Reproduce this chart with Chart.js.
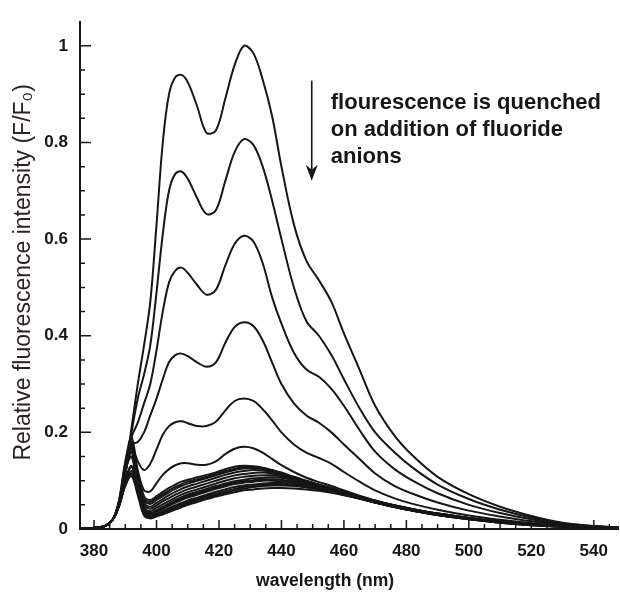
<!DOCTYPE html>
<html>
<head>
<meta charset="utf-8">
<script src="https://cdn.jsdelivr.net/npm/chart.js@4.4.1/dist/chart.umd.min.js"></script>
<style>
  html, body { margin: 0; padding: 0; background: #ffffff; }
  #c { display: block; }
</style>
</head>
<body>
<canvas id="c" width="620" height="592"></canvas>
<script>
// ---- data ----
const wavelengths = [375, 383, 386, 388, 390, 392, 394, 396, 398, 400, 402, 404, 406, 408, 410, 413, 416, 419, 422, 425, 428, 431, 434, 437, 440, 444, 448, 452, 456, 460, 465, 470, 476, 482, 490, 500, 510, 520, 530, 540, 548];

const c1  = [0, .005, .02, .05, .12, .21, .30, .38, .47, .63, .80, .90, .935, .94, .925, .875, .82, .825, .89, .96, 1.0, .985, .93, .855, .75, .63, .555, .515, .47, .405, .33, .255, .195, .152, .108, .072, .046, .027, .013, .006, .003];
const c2  = [0, .005, .02, .05, .12, .2, .27, .32, .38, .49, .61, .70, .735, .74, .725, .685, .652, .66, .72, .78, .807, .795, .75, .68, .60, .50, .43, .40, .36, .31, .25, .20, .16, .127, .092, .062, .04, .024, .012, .006, .003];
const c3  = [0, .005, .02, .05, .12, .19, .22, .26, .30, .37, .45, .51, .535, .541, .53, .505, .485, .495, .545, .59, .607, .595, .55, .48, .425, .365, .33, .315, .29, .255, .205, .16, .125, .10, .074, .05, .033, .02, .011, .005, .003];
const c4  = [0, .005, .02, .05, .115, .175, .18, .2, .235, .27, .31, .345, .36, .363, .358, .345, .336, .345, .385, .418, .428, .42, .39, .345, .30, .26, .235, .22, .20, .175, .145, .115, .09, .073, .055, .038, .026, .016, .009, .005, .003];
const c5  = [0, .005, .02, .05, .115, .17, .14, .122, .135, .165, .195, .213, .221, .223, .219, .213, .213, .222, .245, .265, .27, .265, .248, .225, .2, .175, .158, .147, .135, .118, .098, .08, .064, .052, .04, .028, .019, .012, .007, .004, .002];
const c6  = [0, .005, .02, .05, .115, .165, .12, .08, .078, .095, .112, .124, .132, .136, .136, .133, .133, .14, .155, .166, .17, .167, .158, .145, .132, .118, .106, .097, .089, .08, .069, .059, .049, .041, .032, .023, .016, .01, .006, .003, .002];
const c7  = [0, .005, .02, .06, .14, .19, .12, .068, .06, .068, .077, .085, .092, .098, .102, .107, .112, .117, .124, .129, .131, .13, .127, .122, .117, .108, .1, .092, .085, .077, .068, .059, .049, .041, .032, .023, .016, .01, .006, .003, .002];
const c8  = [0, .005, .02, .055, .12, .16, .11, .064, .056, .064, .072, .08, .087, .093, .098, .103, .108, .114, .12, .125, .128, .128, .125, .121, .116, .107, .099, .091, .084, .076, .067, .058, .049, .041, .032, .023, .015, .01, .006, .003, .002];
const c9  = [0, .005, .02, .05, .1, .13, .1, .06, .052, .06, .068, .076, .083, .089, .094, .1, .105, .111, .117, .122, .125, .126, .124, .12, .115, .107, .099, .091, .084, .076, .067, .058, .049, .041, .032, .023, .015, .01, .006, .003, .002];
const c10 = [0, .005, .02, .058, .135, .18, .11, .055, .046, .054, .062, .07, .077, .083, .088, .094, .1, .106, .112, .117, .12, .122, .121, .118, .114, .106, .098, .09, .083, .075, .066, .058, .048, .04, .031, .022, .015, .009, .005, .003, .002];
const c11 = [0, .005, .02, .05, .095, .12, .09, .05, .042, .049, .057, .064, .071, .077, .082, .088, .094, .1, .106, .111, .114, .116, .117, .115, .111, .104, .097, .089, .082, .074, .065, .057, .048, .04, .031, .022, .015, .009, .005, .003, .002];
const c12 = [0, .005, .02, .056, .13, .17, .1, .045, .037, .044, .051, .058, .065, .071, .076, .082, .088, .094, .1, .105, .108, .11, .111, .111, .109, .103, .096, .089, .082, .074, .065, .057, .048, .04, .031, .022, .015, .009, .005, .003, .002];
const c13 = [0, .005, .02, .048, .09, .11, .08, .04, .033, .039, .046, .053, .06, .066, .071, .077, .083, .089, .094, .099, .102, .105, .106, .107, .106, .101, .095, .088, .081, .073, .064, .056, .047, .039, .03, .021, .014, .009, .005, .003, .002];
const c14 = [0, .005, .02, .05, .1, .13, .085, .039, .031, .037, .043, .05, .057, .063, .068, .074, .08, .086, .091, .096, .099, .101, .103, .103, .102, .098, .093, .087, .08, .073, .064, .055, .046, .038, .03, .021, .014, .009, .005, .003, .002];
const c15 = [0, .005, .02, .055, .125, .16, .09, .038, .03, .035, .041, .048, .054, .06, .065, .071, .077, .083, .088, .093, .096, .098, .1, .1, .099, .096, .091, .085, .079, .072, .063, .055, .046, .038, .03, .021, .014, .009, .005, .003, .002];
const c16 = [0, .005, .02, .048, .092, .115, .075, .034, .027, .032, .037, .043, .049, .054, .059, .065, .071, .077, .082, .087, .09, .092, .094, .095, .095, .093, .089, .084, .078, .071, .063, .055, .046, .038, .029, .021, .014, .009, .005, .003, .002];
const c17 = [0, .005, .02, .05, .1, .13, .078, .032, .025, .03, .035, .04, .046, .051, .056, .062, .068, .073, .078, .083, .087, .089, .091, .092, .092, .091, .087, .083, .077, .071, .063, .055, .046, .038, .029, .02, .013, .008, .005, .003, .002];
const c18 = [0, .005, .02, .054, .12, .15, .08, .03, .024, .028, .033, .038, .043, .048, .053, .059, .065, .07, .075, .08, .084, .087, .089, .09, .09, .089, .086, .082, .077, .071, .063, .055, .046, .038, .029, .02, .013, .008, .005, .003, .002];
const c19 = [0, .005, .02, .046, .09, .11, .07, .028, .022, .026, .03, .035, .04, .045, .05, .056, .062, .067, .072, .076, .08, .082, .084, .085, .085, .084, .082, .079, .075, .07, .063, .055, .046, .038, .029, .02, .013, .008, .005, .003, .002];

const spectra = [c19, c18, c17, c16, c15, c14, c13, c12, c11, c10, c9, c8, c7, c6, c5, c4, c3, c2, c1];

const xTickValues = [380, 400, 420, 440, 460, 480, 500, 520, 540];
const xMinorTicks = [380, 385, 390, 395, 400, 405, 410, 415, 420, 425, 430, 435, 440, 445, 450, 455, 460, 465, 470, 475, 480, 485, 490, 495, 500, 505, 510, 515, 520, 525, 530, 535, 540, 545];
const yTickValues = [0, 0.2, 0.4, 0.6, 0.8, 1];
const yTickLabels = ['0', '0.2', '0.4', '0.6', '0.8', '1'];
const yMinorTicks = [0.05, 0.1, 0.15, 0.25, 0.3, 0.35, 0.45, 0.5, 0.55, 0.65, 0.7, 0.75, 0.85, 0.9, 0.95, 1.0];

const xTitle = 'wavelength (nm)' + '\u00a0'.repeat(10);
const yTitle = '\u00a0' + 'Relative fluorescence intensity (F/F\u2080)';
const noteLines = ['flourescence is quenched', 'on addition of fluoride', 'anions'];
const noteAt = { x: 455.8, y: 0.869 };        // first text baseline (data coords)
const arrowAt = { x: 449.7, yTop: 0.928, yTip: 0.721 };

// ---- chart ----
const FONT = '"Liberation Sans", Arial, Helvetica, sans-serif';
const INK = '#161616';

const inwardTicks = {
  id: 'inwardTicks',
  afterDraw(chart) {
    const { ctx, scales } = chart;
    const x = scales.x, y = scales.y;
    const x0 = x.getPixelForValue(x.min);
    const y0 = y.getPixelForValue(y.min);
    ctx.save();
    ctx.strokeStyle = INK;
    ctx.lineWidth = 1.5;
    ctx.beginPath();
    xMinorTicks.forEach(v => {
      const px = x.getPixelForValue(v);
      const len = xTickValues.includes(v) ? 9 : 5;
      ctx.moveTo(px, y0); ctx.lineTo(px, y0 - len);
    });
    yTickValues.forEach(v => {
      const py = y.getPixelForValue(v);
      ctx.moveTo(x0, py); ctx.lineTo(x0 + 11, py);
    });
    yMinorTicks.forEach(v => {
      const py = y.getPixelForValue(v);
      ctx.moveTo(x0, py); ctx.lineTo(x0 + 5, py);
    });
    ctx.stroke();

    // annotation arrow
    const ax = x.getPixelForValue(arrowAt.x);
    const ayTop = y.getPixelForValue(arrowAt.yTop);
    const ayTip = y.getPixelForValue(arrowAt.yTip);
    ctx.lineWidth = 1.6;
    ctx.beginPath();
    ctx.moveTo(ax, ayTop); ctx.lineTo(ax, ayTip - 8);
    ctx.stroke();
    ctx.fillStyle = INK;
    ctx.beginPath();
    ctx.moveTo(ax, ayTip);
    ctx.lineTo(ax - 6, ayTip - 16);
    ctx.lineTo(ax, ayTip - 11);
    ctx.lineTo(ax + 6, ayTip - 16);
    ctx.closePath();
    ctx.fill();

    // annotation text
    ctx.font = 'bold 22px ' + FONT;
    ctx.textAlign = 'left';
    ctx.textBaseline = 'alphabetic';
    const tx = x.getPixelForValue(noteAt.x);
    const ty = y.getPixelForValue(noteAt.y);
    noteLines.forEach((t, i) => ctx.fillText(t, tx, ty + i * 27));
    ctx.restore();
  }
};

new Chart(document.getElementById('c'), {
  type: 'line',
  data: {
    datasets: spectra.map((s, i) => ({
      label: 'spectrum ' + (i + 1),
      data: wavelengths.map((w, j) => ({ x: w, y: s[j] })),
      borderColor: INK,
      borderWidth: 2,
      pointRadius: 0,
      fill: false,
      tension: 0.35
    }))
  },
  options: {
    responsive: false,
    animation: false,
    events: [],
    layout: { padding: { top: 16, right: 1, left: 0, bottom: 0 } },
    plugins: { legend: { display: false }, tooltip: { enabled: false } },
    scales: {
      x: {
        type: 'linear',
        min: 375.5,
        max: 548,
        afterFit(scale) { scale.height = 63; },
        afterBuildTicks(scale) { scale.ticks = xTickValues.map(v => ({ value: v })); },
        grid: { display: false, drawTicks: false },
        border: { display: true, color: INK, width: 2 },
        ticks: {
          padding: 12,
          color: INK,
          font: { family: FONT, size: 17, weight: 'bold' },
          maxRotation: 0,
          callback: (v) => String(v)
        },
        title: {
          display: true,
          text: xTitle,
          color: INK,
          font: { family: FONT, size: 17.5, weight: 'bold' },
          padding: { top: 0, bottom: 0 }
        }
      },
      y: {
        type: 'linear',
        min: 0,
        max: 1.049,
        afterFit(scale) { scale.width = 80; },
        afterBuildTicks(scale) { scale.ticks = yTickValues.map(v => ({ value: v })); },
        grid: { display: false, drawTicks: false },
        border: { display: true, color: INK, width: 2 },
        ticks: {
          padding: 12,
          color: INK,
          font: { family: FONT, size: 17, weight: 'bold' },
          callback: (v) => yTickLabels[yTickValues.indexOf(v)] ?? ''
        },
        title: {
          display: true,
          text: yTitle,
          color: '#2a2026',
          font: { family: FONT, size: 23, weight: 'normal' },
          padding: { top: 10, bottom: 0 }
        }
      }
    }
  },
  plugins: [inwardTicks]
});
</script>
</body>
</html>
